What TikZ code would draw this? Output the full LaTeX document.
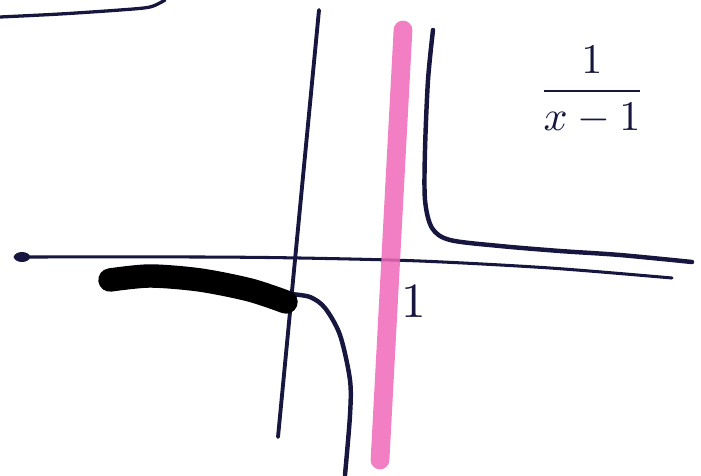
\documentclass[tikz,border=0pt]{standalone}
\usepackage{amsmath}
\usepackage{graphicx}
\usepackage{tikz}
\usetikzlibrary{arrows.meta}
\definecolor{InkBlue}{RGB}{22,22,62}
\definecolor{MarkPink}{RGB}{240,105,185}
\tikzset{
	ax/.style={line width=2.6pt, draw=InkBlue, line cap=round},
	branch/.style={line width=3.8pt, draw=InkBlue, line cap=round, line join=round},
	asym/.style={line width=16pt, draw=MarkPink, opacity=0.85, line cap=round},
	heavy/.style={line width=20pt, draw=black, line cap=round},
	lab/.style={text=InkBlue, inner sep=0pt}
}

\begin{document}
\begin{tikzpicture}[x=0.03cm, y=-0.03cm]
		\useasboundingbox (0,0) rectangle (701,475);
		% stroke left over at the top
		\draw[branch, line width=2.8pt] plot[smooth] coordinates {(0,17) (60,14) (120,10) (150,7) (165,0)};
		% axes
		\draw[ax] plot[smooth] coordinates {(15,257) (200,257) (300,258) (420,261) (550,268) (672,278)};
		\fill[InkBlue] (22,257) ellipse (8 and 5);
		\draw[ax, line width=3.3pt] (319,10) -- (278,437);
		% branches of the hyperbola
		\draw[branch] plot[smooth] coordinates {(433,30) (428,80) (425,150) (425,200) (432,228) (450,240) (500,246) (560,251) (620,255) (692,262)};
		\draw[branch] plot[smooth] coordinates {(290,294) (310,297) (325,308) (340,335) (350,380) (350,415) (345,475)};
		\draw[heavy] plot[smooth] coordinates {(110,280) (150,276) (200,280) (250,290) (286,302)};
		% asymptote x=1
		\draw[asym] (403,30) -- (380,460);
		% labels
		\node[lab] (one) at (414,302) {\scalebox{4.2}{$1$}};
		\node[lab] (frac) at (592,90) {\scalebox{3.6}{$\dfrac{1}{x-1}$}};
	\end{tikzpicture}
\end{document}
